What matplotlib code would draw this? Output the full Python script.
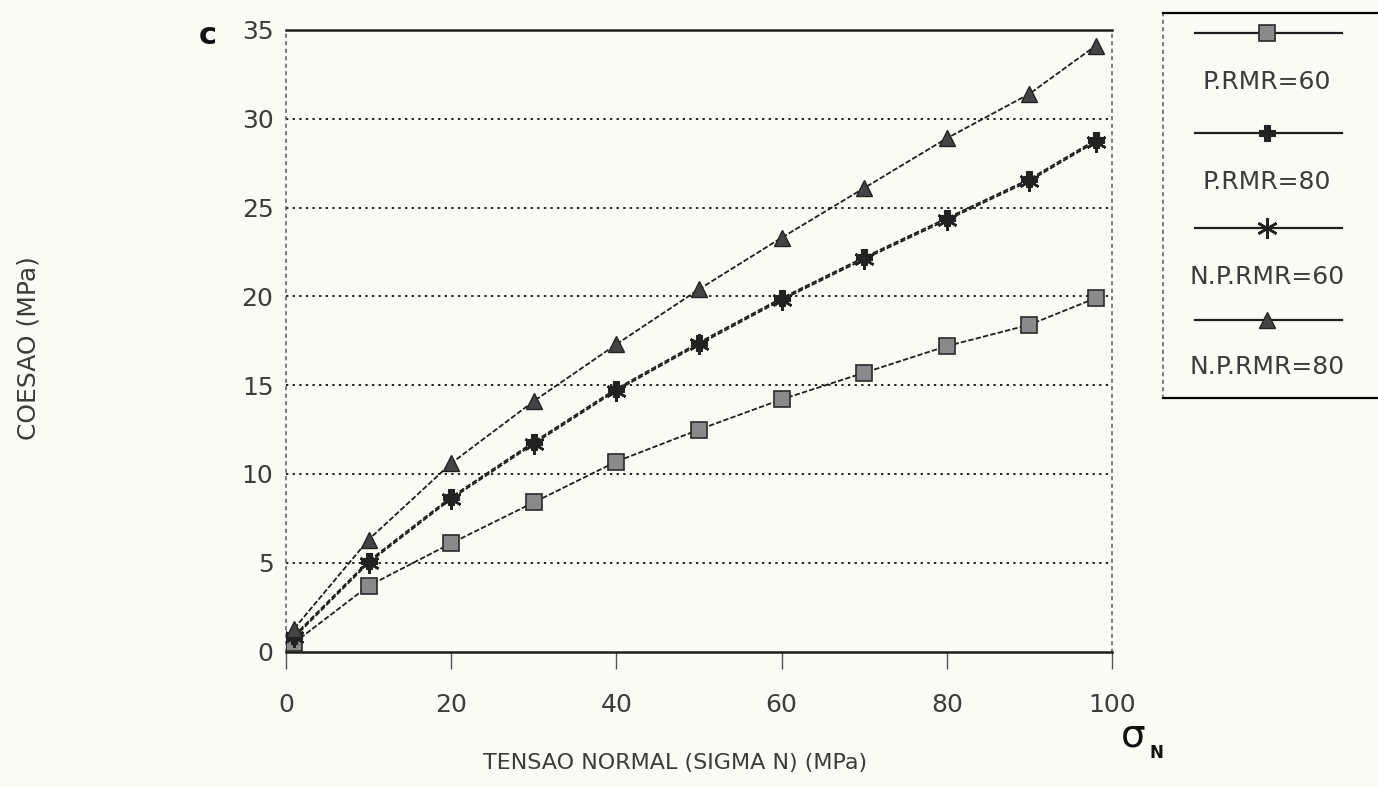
import matplotlib
matplotlib.use("Agg")
import matplotlib.pyplot as plt
from matplotlib.lines import Line2D

plt.rcParams['font.family'] = ['DejaVu Sans']

# Normal stress (MPa)
sigma_n = [1, 10, 20, 30, 40, 50, 60, 70, 80, 90, 98]

# Cohesion (MPa) for each rock-mass case
p_rmr60 = [0.5, 3.7, 6.1, 8.4, 10.7, 12.5, 14.2, 15.7, 17.2, 18.4, 19.9]
p_rmr80 = [0.9, 5.1, 8.7, 11.8, 14.8, 17.4, 19.9, 22.2, 24.4, 26.6, 28.8]
np_rmr60 = [0.8, 5.0, 8.6, 11.7, 14.7, 17.3, 19.8, 22.1, 24.3, 26.5, 28.7]
np_rmr80 = [1.3, 6.3, 10.6, 14.1, 17.3, 20.4, 23.3, 26.1, 28.9, 31.4, 34.1]

series_labels = ["P.RMR=60", "P.RMR=80", "N.P.RMR=60", "N.P.RMR=80"]
x_ticks = [0, 20, 40, 60, 80, 100]
y_ticks = [0, 5, 10, 15, 20, 25, 30, 35]

paper = '#fafbf5'
ink = '#1e1e1e'
txt = '#3c3c3c'

styles = [
    dict(marker='s', ms=11, mfc='#8a8a8a', mec='#2a2a2a', mew=1.2),
    dict(marker='P', ms=12, mfc='#222222', mec='#222222', mew=0.8),
    dict(marker=(6, 2, 0), ms=15, mfc='none', mec='#222222', mew=1.8),
    dict(marker='^', ms=11, mfc='#444444', mec='#222222', mew=1.0),
]
data = [p_rmr60, p_rmr80, np_rmr60, np_rmr80]

fig = plt.figure(figsize=(13.78, 7.87), dpi=100, facecolor=paper)
ax = fig.add_axes([0.2075, 0.172, 0.5995, 0.790], facecolor=paper)

for vals, st in zip(data, styles):
    ax.plot(sigma_n, vals, color=ink, lw=1.3, ls=(0, (3, 1.2)), zorder=3, **st)

ax.set_xlim(0, 100)
ax.set_ylim(0, 35)
ax.set_xticks(x_ticks)
ax.set_yticks(y_ticks)
ax.tick_params(axis='x', direction='out', length=12, width=1.0, color='#555555',
               labelsize=18, labelcolor=txt, pad=18)
ax.tick_params(axis='y', length=0, labelsize=18, labelcolor=txt, pad=9)

for y in y_ticks[1:-1]:
    ax.axhline(y, color='#222222', lw=1.4, ls=(0, (1.2, 2.2)), zorder=1)

ax.spines['top'].set_linewidth(1.8)
ax.spines['top'].set_color(ink)
ax.spines['bottom'].set_linewidth(1.8)
ax.spines['bottom'].set_color(ink)
for side in ('left', 'right'):
    ax.spines[side].set_linewidth(1.2)
    ax.spines[side].set_color('#666666')
    ax.spines[side].set_linestyle((0, (1.5, 3)))

# Legend panel: line sample above each label
lg = fig.add_axes([0.844, 0.494, 0.2, 0.489], facecolor=paper)
lg.set_xlim(0, 1)
lg.set_ylim(0, 1)
lg.set_xticks([])
lg.set_yticks([])
lg.spines['right'].set_visible(False)
lg.spines['top'].set_linewidth(1.6)
lg.spines['bottom'].set_linewidth(1.6)
lg.spines['left'].set_linewidth(1.2)
lg.spines['left'].set_color('#666666')
lg.spines['left'].set_linestyle((0, (1.5, 3)))

line_y = [0.948, 0.688, 0.442, 0.203]
label_y = [0.821, 0.561, 0.314, 0.081]
for st, ly, ty, lab in zip(styles, line_y, label_y, series_labels):
    lg.add_line(Line2D([0.116, 0.65], [ly, ly], color=ink, lw=1.6,
                       transform=lg.transAxes))
    lg.add_line(Line2D([0.377], [ly], color=ink, lw=0,
                       transform=lg.transAxes, **st))
    lg.text(0.377, ty, lab, transform=lg.transAxes, ha='center', va='center',
            fontsize=18, color=txt)

fig.text(0.49, 0.030, "TENSAO NORMAL (SIGMA N) (MPa)", ha='center', va='center',
         fontsize=16, color=txt)
fig.text(0.021, 0.558, "COESAO (MPa)", ha='center', va='center', rotation=90,
         fontsize=18, color=txt)

fig.text(0.151, 0.955, "c", ha='center', va='center', fontsize=22,
         fontweight='bold', color='#111111')
fig.text(0.822, 0.066, "σ", ha='center', va='center', fontsize=28, color='#111111')
fig.text(0.8395, 0.043, "N", ha='center', va='center', fontsize=12,
         fontweight='bold', color='#111111')

fig.savefig("out.png", dpi=100, facecolor=paper)
